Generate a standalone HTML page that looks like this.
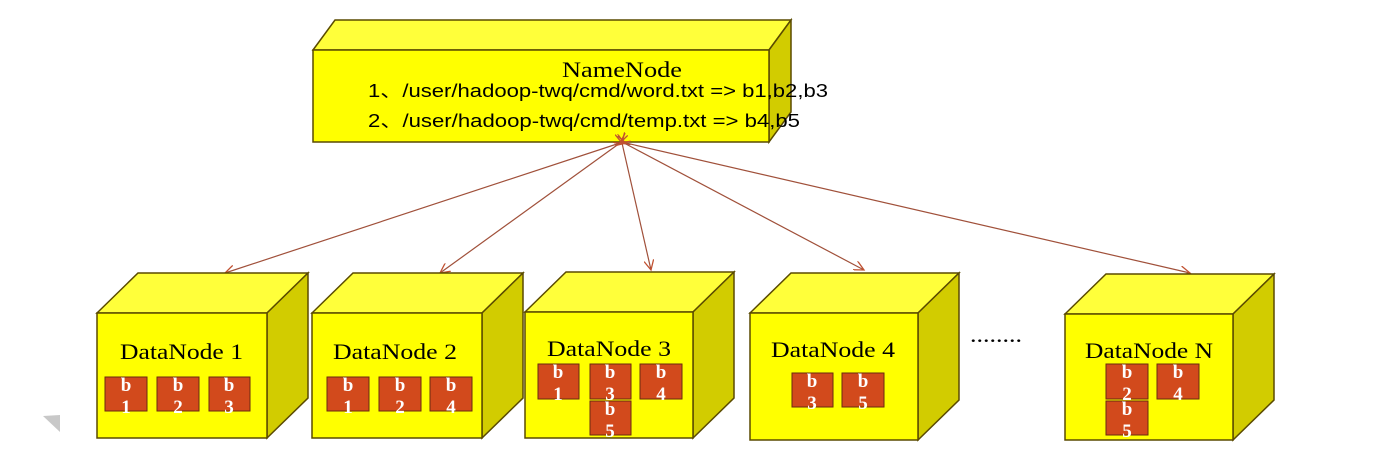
<!DOCTYPE html>
<html><head><meta charset="utf-8"><style>
html,body{margin:0;padding:0;background:#fff;}
svg{display:block;}
.t{fill:#ffff3a;stroke:#5a4a00;stroke-width:1.5}
.f{fill:#ffff00;stroke:#5a4a00;stroke-width:1.5}
.s{fill:#d2cc00;stroke:#5a4a00;stroke-width:1.5}
.lbl{font-family:"Liberation Serif",serif;font-size:22px;fill:#000}
.bk{fill:#d24a1c;stroke:#6a2a10;stroke-width:1}
.bt{font-family:"Liberation Serif",serif;font-weight:bold;font-size:19px;fill:#fff;text-anchor:middle}
.ar{stroke:#a0503a;stroke-width:1.2;fill:none}
</style></head><body>
<svg width="1394" height="475" viewBox="0 0 1394 475" xmlns="http://www.w3.org/2000/svg">
<defs>
<marker id="a" markerWidth="12" markerHeight="10" refX="10" refY="5" orient="auto" markerUnits="userSpaceOnUse">
<path d="M0,0 L10,5 L0,10" fill="none" stroke="#c05030" stroke-width="1.3"/>
</marker>
</defs>
<polygon class="t" points="313,50 335,20 791,20 769,50"/>
<polygon class="s" points="769,50 791,20 791,112 769,142"/>
<rect class="f" x="313" y="50" width="456" height="92"/>
<text class="lbl" x="562" y="77" textLength="120" lengthAdjust="spacingAndGlyphs">NameNode</text>
<text font-family="Liberation Sans, Noto Sans CJK SC, sans-serif" font-size="18" x="368" y="97" textLength="460" lengthAdjust="spacingAndGlyphs">1、/user/hadoop-twq/cmd/word.txt =&gt; b1,b2,b3</text>
<text font-family="Liberation Sans, Noto Sans CJK SC, sans-serif" font-size="18" x="368" y="127" textLength="432" lengthAdjust="spacingAndGlyphs">2、/user/hadoop-twq/cmd/temp.txt =&gt; b4,b5</text>

<line class="ar" x1="620" y1="143" x2="225" y2="273" marker-start="url(#a)" marker-end="url(#a)"/>
<line class="ar" x1="620" y1="143" x2="440" y2="273" marker-start="url(#a)" marker-end="url(#a)"/>
<line class="ar" x1="622" y1="143" x2="651" y2="270" marker-start="url(#a)" marker-end="url(#a)"/>
<line class="ar" x1="624" y1="143" x2="864" y2="270" marker-start="url(#a)" marker-end="url(#a)"/>
<line class="ar" x1="626" y1="143" x2="1190" y2="273" marker-start="url(#a)" marker-end="url(#a)"/>

<polygon class="t" points="97,313 138,273 308,273 267,313"/>
<polygon class="s" points="267,313 308,273 308,398 267,438"/>
<rect class="f" x="97" y="313" width="170" height="125"/>
<text class="lbl" x="120" y="359" textLength="123" lengthAdjust="spacingAndGlyphs">DataNode 1</text>
<rect class="bk" x="105" y="377" width="42" height="34"/><text class="bt" x="126" y="391">b</text><text class="bt" x="126" y="413">1</text>
<rect class="bk" x="157" y="377" width="42" height="34"/><text class="bt" x="178" y="391">b</text><text class="bt" x="178" y="413">2</text>
<rect class="bk" x="209" y="377" width="41" height="34"/><text class="bt" x="229" y="391">b</text><text class="bt" x="229" y="413">3</text>

<polygon class="t" points="312,313 353,273 523,273 482,313"/>
<polygon class="s" points="482,313 523,273 523,398 482,438"/>
<rect class="f" x="312" y="313" width="170" height="125"/>
<text class="lbl" x="333" y="359" textLength="124" lengthAdjust="spacingAndGlyphs">DataNode 2</text>
<rect class="bk" x="327" y="377" width="42" height="34"/><text class="bt" x="348" y="391">b</text><text class="bt" x="348" y="413">1</text>
<rect class="bk" x="379" y="377" width="42" height="34"/><text class="bt" x="400" y="391">b</text><text class="bt" x="400" y="413">2</text>
<rect class="bk" x="430" y="377" width="42" height="34"/><text class="bt" x="451" y="391">b</text><text class="bt" x="451" y="413">4</text>

<polygon class="t" points="525,312 566,272 734,272 693,312"/>
<polygon class="s" points="693,312 734,272 734,398 693,438"/>
<rect class="f" x="525" y="312" width="168" height="126"/>
<text class="lbl" x="547" y="356" textLength="124" lengthAdjust="spacingAndGlyphs">DataNode 3</text>
<rect class="bk" x="538" y="364" width="41" height="35"/><text class="bt" x="558" y="378">b</text><text class="bt" x="558" y="400">1</text>
<rect class="bk" x="590" y="364" width="41" height="35"/><text class="bt" x="610" y="378">b</text><text class="bt" x="610" y="400">3</text>
<rect class="bk" x="640" y="364" width="42" height="35"/><text class="bt" x="661" y="378">b</text><text class="bt" x="661" y="400">4</text>
<rect class="bk" x="590" y="401" width="41" height="34"/><text class="bt" x="610" y="415">b</text><text class="bt" x="610" y="437">5</text>

<polygon class="t" points="750,313 791,273 959,273 918,313"/>
<polygon class="s" points="918,313 959,273 959,400 918,440"/>
<rect class="f" x="750" y="313" width="168" height="127"/>
<text class="lbl" x="771" y="357" textLength="124" lengthAdjust="spacingAndGlyphs">DataNode 4</text>
<rect class="bk" x="792" y="373" width="41" height="34"/><text class="bt" x="812" y="387">b</text><text class="bt" x="812" y="409">3</text>
<rect class="bk" x="842" y="373" width="42" height="34"/><text class="bt" x="863" y="387">b</text><text class="bt" x="863" y="409">5</text>

<text x="970" y="342" font-family="Liberation Serif,serif" font-size="22" fill="#000" textLength="52" lengthAdjust="spacingAndGlyphs">........</text>

<polygon class="t" points="1065,314 1106,274 1274,274 1233,314"/>
<polygon class="s" points="1233,314 1274,274 1274,400 1233,440"/>
<rect class="f" x="1065" y="314" width="168" height="126"/>
<text class="lbl" x="1085" y="358" textLength="128" lengthAdjust="spacingAndGlyphs">DataNode N</text>
<rect class="bk" x="1106" y="364" width="42" height="35"/><text class="bt" x="1127" y="378">b</text><text class="bt" x="1127" y="400">2</text>
<rect class="bk" x="1157" y="364" width="42" height="35"/><text class="bt" x="1178" y="378">b</text><text class="bt" x="1178" y="400">4</text>
<rect class="bk" x="1106" y="401" width="42" height="34"/><text class="bt" x="1127" y="415">b</text><text class="bt" x="1127" y="437">5</text>

<polygon points="43,416 60,415 60,432" fill="#c8c8c8"/>
</svg>
</body></html>
